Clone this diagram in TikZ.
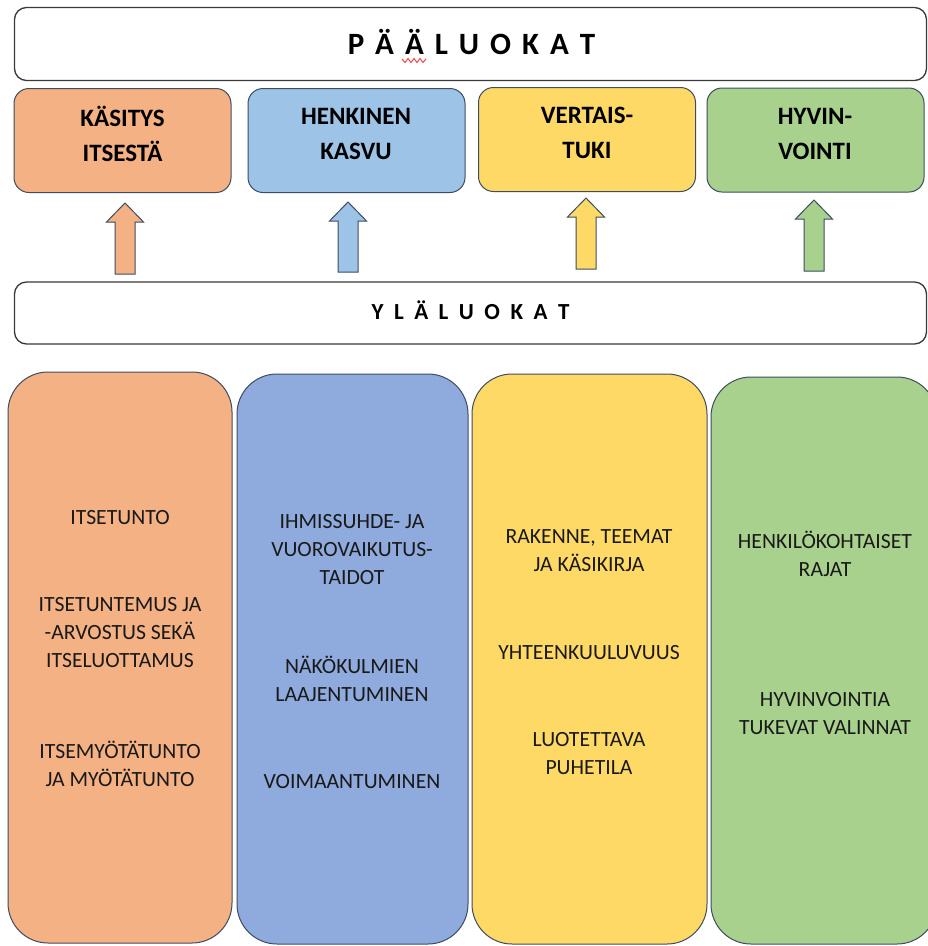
\documentclass[tikz,border=0pt]{standalone}
\usepackage{fontspec}
\setmainfont{Carlito}
\definecolor{cOrange}{HTML}{F4B183}
\definecolor{cBlueL}{HTML}{9DC3E6}
\definecolor{cBlueD}{HTML}{8FAADC}
\definecolor{cYellow}{HTML}{FFD966}
\definecolor{cGreen}{HTML}{A9D18E}
\definecolor{cEdge}{HTML}{3E4C63}
\definecolor{cFrame}{HTML}{3A3A3A}
\definecolor{cRed}{HTML}{F04848}
\newcommand\blockarr[4]{% x, ytip, ybottom, colour
  \draw[arrstyle, fill=#4] (#1-10,#3) -- (#1-10,#2+19) -- (#1-18.5,#2+19) -- (#1,#2)
    -- (#1+18.5,#2+19) -- (#1+10,#2+19) -- (#1+10,#3) -- cycle;}
\tikzset{
  framebox/.style={draw=cFrame, line width=1.3pt, rounded corners=12pt, fill=white, inner sep=0},
  catbox/.style={draw=cEdge, line width=1pt, rounded corners=15pt, inner sep=0},
  cattext/.style={font=\fontsize{25}{35}\selectfont\bfseries, align=center, inner sep=0},
  colbox/.style={draw=cEdge, line width=1pt, rounded corners=40pt, inner sep=0},
  itemtext/.style={font=\fontsize{21.7}{28}\selectfont, align=center, inner sep=0, text=black!90},
  arrstyle/.style={draw=cEdge, line width=1pt, line join=miter},
}
\begin{document}
\begin{tikzpicture}[x=1pt,y=-1pt]
\useasboundingbox (0,0) rectangle (928,946);
\clip (0,0) rectangle (928,946);
\fill[white] (0,0) rectangle (928,946);

% top frame
\node[framebox, minimum width=912pt, minimum height=73pt] (paa) at (470.5,44) {};
\node[font=\fontsize{31}{31}\selectfont\bfseries, inner sep=0] (paat) at (471.5,42)
  {P\hspace{11pt}Ä\hspace{11pt}Ä\hspace{11pt}L\hspace{11pt}U\hspace{11pt}O\hspace{11pt}K\hspace{11pt}A\hspace{11pt}T};
\draw[cRed, line width=1pt] (402,59) -- (405,62.5) -- (408,58.5) -- (411,62.5) -- (414,58.5)
  -- (417,62.5) -- (420,58.5) -- (423,62.5) -- (426,59);

% category boxes
\node[catbox, fill=cOrange, minimum width=217pt, minimum height=104pt] (k1) at (122.5,140.5) {};
\node[catbox, fill=cBlueL, minimum width=217pt, minimum height=104pt] (k2) at (356.5,140.5) {};
\node[catbox, fill=cYellow, minimum width=217pt, minimum height=104pt] (k3) at (587,139.5) {};
\node[catbox, fill=cGreen, minimum width=217pt, minimum height=104pt] (k4) at (815.5,140) {};
\node[cattext] (k1t) at (122.5,134) {KÄSITYS\\ITSESTÄ};
\node[cattext] (k2t) at (356,134) {HENKINEN\\KASVU};
\node[cattext] (k3t) at (587,132.5) {VERTAIS-\\TUKI};
\node[cattext] (k4t) at (815,133.5) {HYVIN-\\VOINTI};

% block arrows
\blockarr{125}{203}{274}{cOrange}
\blockarr{348}{202}{272}{cBlueL}
\blockarr{586}{198}{269}{cYellow}
\blockarr{814}{200}{271}{cGreen}

% YLÄLUOKAT frame
\node[framebox, minimum width=912pt, minimum height=62pt] (yla) at (470.5,313) {};
\node[font=\fontsize{23}{23}\selectfont\bfseries, inner sep=0] (ylat) at (470.5,310.5)
  {Y\hspace{10.5pt}L\hspace{10.5pt}Ä\hspace{10.5pt}L\hspace{10.5pt}U\hspace{10.5pt}O\hspace{10.5pt}K\hspace{10.5pt}A\hspace{10.5pt}T};

% columns
\node[colbox, fill=cOrange, minimum width=224pt, minimum height=571pt] (c1) at (120,657.5) {};
\node[colbox, fill=cBlueD, minimum width=231pt, minimum height=570pt] (c2) at (352.5,659) {};
\node[colbox, fill=cYellow, minimum width=235pt, minimum height=570pt] (c3) at (589.5,659) {};
\node[colbox, fill=cGreen, minimum width=226pt, minimum height=567pt] (c4) at (824,660.5) {};

% column texts
\node[itemtext] (o1) at (120,518) {ITSETUNTO};
\node[itemtext] (o2) at (120,632.5) {ITSETUNTEMUS JA\\-ARVOSTUS SEKÄ\\ITSELUOTTAMUS};
\node[itemtext] (o3) at (120,763.5) {ITSEMYÖTÄTUNTO\\JA MYÖTÄTUNTO};

\node[itemtext] (b1) at (352,549.5) {IHMISSUHDE- JA\\VUOROVAIKUTUS-\\TAIDOT};
\node[itemtext] (b2) at (352,678.5) {NÄKÖKULMIEN\\LAAJENTUMINEN};
\node[itemtext] (b3) at (352,782) {VOIMAANTUMINEN};

\node[itemtext] (y1) at (589,551) {RAKENNE, TEEMAT\\JA KÄSIKIRJA};
\node[itemtext] (y2) at (589,653) {YHTEENKUULUVUUS};
\node[itemtext] (y3) at (589,754) {LUOTETTAVA\\PUHETILA};

\node[itemtext] (g1) at (825,554) {HENKILÖKOHTAISET\\RAJAT};
\node[itemtext] (g2) at (825,714) {HYVINVOINTIA\\TUKEVAT VALINNAT};
\end{tikzpicture}
\end{document}
